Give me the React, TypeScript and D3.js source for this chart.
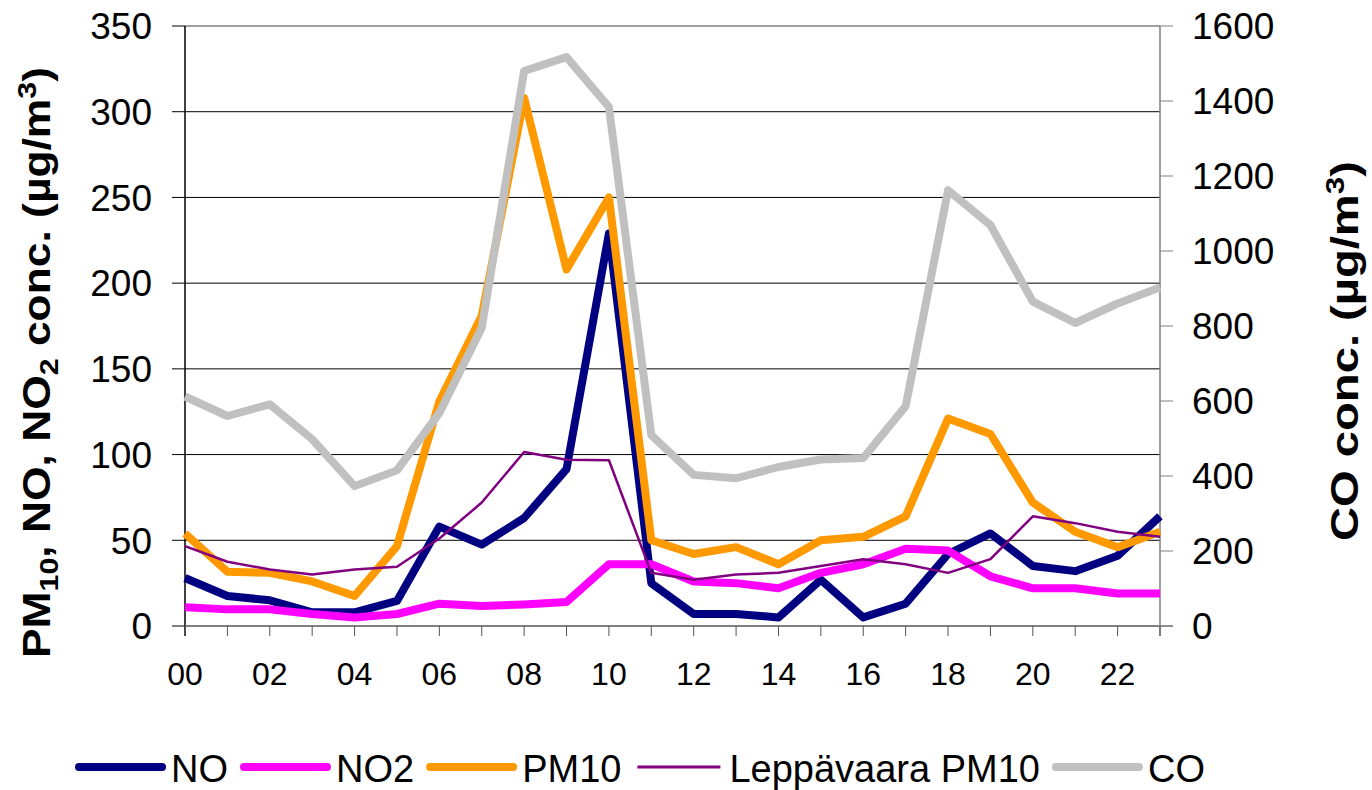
import * as React from 'react';
import * as d3 from 'd3';

const hours = d3.range(24).map((h) => (h < 10 ? '0' + h : '' + h));
const noValues = [28, 17.5, 15, 8, 8, 14.6, 58, 47.5, 63, 91.5, 229, 25, 7, 7, 5, 27, 5, 13, 42, 54, 35, 32, 41, 64];
const no2Values = [11, 9.7, 9.7, 7, 5, 7, 13, 11.6, 12.6, 14, 36, 36, 26, 25, 22, 31, 36, 45, 44, 29, 22, 22, 19, 19];
const pm10Values = [54, 31.6, 31, 26, 17.5, 46.6, 131, 181, 308, 208, 250, 50, 42, 46, 36, 50, 52, 64, 121, 112, 72, 55, 46, 55];
const leppValues = [46.6, 37.5, 33, 30, 33, 34.6, 51, 72, 101.5, 97, 96.7, 31, 27, 30, 31, 35, 39, 36, 31, 39, 64, 60, 55, 52];
const coValues = [612, 560, 591, 498, 373, 415, 568, 795, 1480, 1517, 1384, 509, 403, 394, 424, 444, 448, 586, 1162, 1069, 865, 808, 860, 903];
const leftTicks = [0, 50, 100, 150, 200, 250, 300, 350];
const rightTicks = [0, 200, 400, 600, 800, 1000, 1200, 1400, 1600];

const series = [
  { name: 'NO', values: noValues, color: '#000080', width: 8, axis: 'left' },
  { name: 'NO2', values: no2Values, color: '#FF00FF', width: 8, axis: 'left' },
  { name: 'PM10', values: pm10Values, color: '#FF9900', width: 8, axis: 'left' },
  { name: 'Leppävaara PM10', values: leppValues, color: '#800080', width: 2.5, axis: 'left' },
  { name: 'CO', values: coValues, color: '#C0C0C0', width: 8, axis: 'right' }
];

const W = 1372;
const H = 790;
const left = 185;
const right = 1160;
const top = 26;
const bottom = 626;
const font = 'Liberation Sans, Arial, sans-serif';

function measure(text: string, size: number) {
  const c = document.createElement('canvas').getContext('2d');
  if (!c) return text.length * size * 0.55;
  c.font = `${size}px ${font}`;
  return c.measureText(text).width;
}

export default function App() {
  const x = d3.scalePoint<string>().domain(hours).range([left, right]);
  const yL = d3.scaleLinear().domain([0, 350]).range([bottom, top]);
  const yR = d3.scaleLinear().domain([0, 1600]).range([bottom, top]);

  const legendSize = 38;
  let lx = 79;
  const legendItems = series.map((s) => {
    const item = { ...s, x: lx };
    lx += 83 + 9 + measure(s.name, legendSize) + 16;
    return item;
  });

  return (
    <div style={{ position: 'absolute', left: 0, top: 0 }}>
      <svg width={W} height={H} style={{ display: 'block', fontFamily: font }}>
        <rect width={W} height={H} fill="#fff" />
        {/* grid */}
        {leftTicks.map((t) => (
          <line key={'g' + t} x1={left} x2={right} y1={yL(t)} y2={yL(t)} stroke={t === 350 ? '#808080' : '#000'} strokeWidth={t === 350 ? 1.5 : 1} />
        ))}
        {/* axes */}
        <line x1={left} x2={left} y1={top} y2={bottom + 10} stroke="#000" strokeWidth={1.5} />
        <line x1={right} x2={right} y1={top} y2={bottom + 10} stroke="#808080" strokeWidth={1.5} />
        <line x1={left} x2={right + 13} y1={bottom} y2={bottom} stroke="#808080" strokeWidth={1.5} />
        {leftTicks.map((t) => (
          <g key={'l' + t}>
            <line x1={left - 13} x2={left} y1={yL(t)} y2={yL(t)} stroke="#000" strokeWidth={1} />
            <text x={152} y={yL(t)} dy="0.36em" textAnchor="end" fontSize={37}>{t}</text>
          </g>
        ))}
        {rightTicks.map((t) => (
          <g key={'r' + t}>
            <line x1={right} x2={right + 13} y1={yR(t)} y2={yR(t)} stroke="#808080" strokeWidth={1} />
            <text x={1192} y={yR(t)} dy="0.36em" textAnchor="start" fontSize={37}>{t}</text>
          </g>
        ))}
        {hours.map((h, i) => (
          <g key={'x' + h}>
            <line x1={x(h)} x2={x(h)} y1={bottom} y2={bottom + 10} stroke="#555" strokeWidth={1} />
            {i % 2 === 0 && (
              <text x={x(h)} y={685} textAnchor="middle" fontSize={32}>{h}</text>
            )}
          </g>
        ))}
        {/* series */}
        {series.map((s) => {
          const y = s.axis === 'left' ? yL : yR;
          const line = d3
            .line<number>()
            .x((_, i) => x(hours[i]) as number)
            .y((d) => y(d));
          return (
            <path key={s.name} d={line(s.values) || ''} fill="none" stroke={s.color} strokeWidth={s.width} strokeLinejoin="round" strokeLinecap="butt" />
          );
        })}
        {/* axis titles */}
        <text transform="translate(50,658) rotate(-90)" textAnchor="start" fontSize={38} fontWeight="bold" textLength={591} lengthAdjust="spacingAndGlyphs">
          PM<tspan fontSize={26} dy={8}>10</tspan>
          <tspan dy={-8}>, NO, NO</tspan>
          <tspan fontSize={26} dy={8}>2</tspan>
          <tspan dy={-8}> conc. (µg/m</tspan>
          <tspan fontSize={26} dy={-14}>3</tspan>
          <tspan dy={14}>)</tspan>
        </text>
        <text transform="translate(1358,541) rotate(-90)" textAnchor="start" fontSize={39} fontWeight="bold" textLength={380} lengthAdjust="spacingAndGlyphs">
          CO conc. (µg/m<tspan fontSize={26} dy={-14}>3</tspan>
          <tspan dy={14}>)</tspan>
        </text>
        {/* legend */}
        {legendItems.map((s) => (
          <g key={'lg' + s.name}>
            <line x1={s.x} x2={s.x + 83} y1={767} y2={767} stroke={s.color} strokeWidth={s.width === 8 ? 8 : 3} strokeLinecap={s.width === 8 ? 'round' : 'butt'} />
            <text x={s.x + 92} y={782} fontSize={legendSize}>{s.name}</text>
          </g>
        ))}
      </svg>
    </div>
  );
}
